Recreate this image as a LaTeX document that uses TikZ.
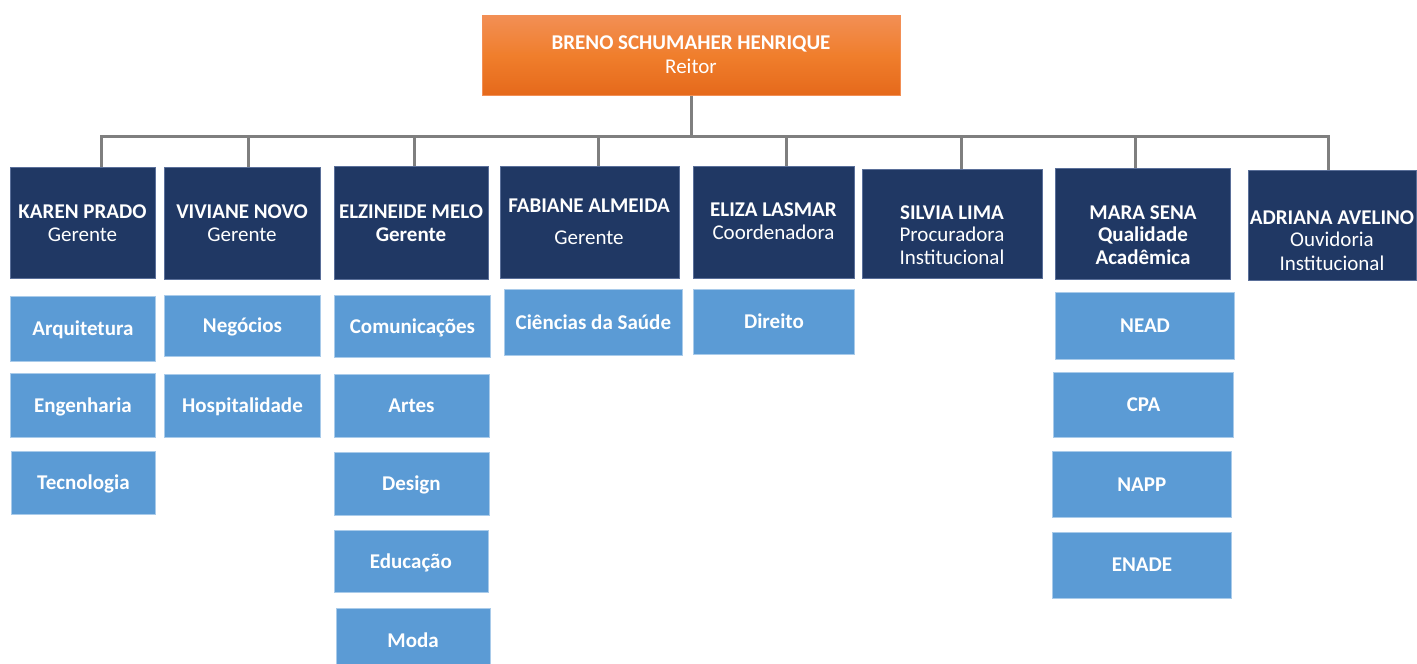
\documentclass[tikz,border=0pt]{standalone}
\usepackage{fontspec}
\setmainfont{Carlito}
\definecolor{navy}{HTML}{203864}
\definecolor{navyedge}{HTML}{5A6F99}
\definecolor{lblue}{HTML}{5B9BD5}
\definecolor{lbedge}{HTML}{A9CBEA}
\definecolor{orgT}{HTML}{F28F55}
\definecolor{orgM}{HTML}{F07E2C}
\definecolor{orgB}{HTML}{E5691B}
\definecolor{connc}{HTML}{7F7F7F}
\begin{document}
\begin{tikzpicture}[x=1pt,y=-1pt,
  darkbox/.style={fill=navy,draw=navyedge,line width=0.8pt,anchor=north west,inner sep=0pt},
  lightbox/.style={fill=lblue,draw=lbedge,line width=0.8pt,anchor=north west,inner sep=0pt,
     text=white,font=\fontsize{21}{25}\selectfont\bfseries,text height=13.5pt,text depth=0pt},
  tline/.style={text=white,anchor=base,inner sep=0pt,font=\fontsize{21}{23}\selectfont},
  bline/.style={tline,font=\fontsize{21}{23}\selectfont\bfseries},
  conn/.style={draw=connc,line width=3pt}]
\useasboundingbox (0,0) rectangle (1417,664);

% top box
\node[anchor=north west,inner sep=0pt,minimum width=418pt,minimum height=80pt,
  top color=orgT,bottom color=orgB,middle color=orgM,draw=orgT,line width=0.8pt] (reitor) at (482,15) {};
\node[bline] (reitor1) at (691,49) {BRENO SCHUMAHER HENRIQUE};
\node[tline] (reitor2) at (691,73) {Reitor};

% managers
\node[darkbox,minimum width=145pt,minimum height=111pt] (karen) at (10,167) {};
\node[darkbox,minimum width=156pt,minimum height=112pt] (viviane) at (164,167) {};
\node[darkbox,minimum width=154pt,minimum height=113pt] (elzineide) at (334,166) {};
\node[darkbox,minimum width=179pt,minimum height=112pt] (fabiane) at (499.5,166) {};
\node[darkbox,minimum width=160.5pt,minimum height=112pt] (eliza) at (693.3,166) {};
\node[darkbox,minimum width=180pt,minimum height=109pt] (silvia) at (862.3,169) {};
\node[darkbox,minimum width=175pt,minimum height=111pt] (mara) at (1055.3,168) {};
\node[darkbox,minimum width=168pt,minimum height=110pt] (adriana) at (1248,170) {};

\node[bline] (karen1) at (82.5,218) {KAREN PRADO};
\node[tline] (karen2) at (82.5,241) {Gerente};
\node[bline] (viviane1) at (242,218) {VIVIANE NOVO};
\node[tline] (viviane2) at (242,241) {Gerente};
\node[bline] (elzineide1) at (411,218) {ELZINEIDE MELO};
\node[bline] (elzineide2) at (411,241) {Gerente};
\node[bline] (fabiane1) at (589,212.3) {FABIANE ALMEIDA};
\node[tline] (fabiane2) at (589,244.7) {Gerente};
\node[bline] (eliza1) at (773.5,216.3) {ELIZA LASMAR};
\node[tline] (eliza2) at (773.5,239.3) {Coordenadora};
\node[bline] (silvia1) at (952,219) {SILVIA LIMA};
\node[tline] (silvia2) at (952,241.5) {Procuradora};
\node[tline] (silvia3) at (952,264) {Institucional};
\node[bline] (mara1) at (1143,219) {MARA SENA};
\node[bline] (mara2) at (1143,241.5) {Qualidade};
\node[bline] (mara3) at (1143,264) {Acadêmica};
\node[bline] (adriana1) at (1332,224) {ADRIANA AVELINO};
\node[tline] (adriana2) at (1332,246.5) {Ouvidoria};
\node[tline] (adriana3) at (1332,270) {Institucional};

% departments
\node[lightbox,minimum width=145pt,minimum height=65pt] (arq) at (10,295.5) {Arquitetura};
\node[lightbox,minimum width=145pt,minimum height=64pt] (eng) at (10,373) {Engenharia};
\node[lightbox,minimum width=144pt,minimum height=63pt] (tec) at (11,451.3) {Tecnologia};
\node[lightbox,minimum width=155.5pt,minimum height=61.5pt] (neg) at (164.3,294.7) {Negócios};
\node[lightbox,minimum width=155.5pt,minimum height=62.5pt] (hosp) at (164.3,374) {Hospitalidade};
\node[lightbox,minimum width=155.5pt,minimum height=62.5pt] (comu) at (334.3,294.7) {Comunicações};
\node[lightbox,minimum width=155pt,minimum height=62.5pt] (artes) at (333.5,374) {Artes};
\node[lightbox,minimum width=155pt,minimum height=63pt] (design) at (333.5,452.3) {Design};
\node[lightbox,minimum width=154pt,minimum height=62pt] (edu) at (333.5,530.3) {Educação};
\node[lightbox,minimum width=154pt,minimum height=66pt] (moda) at (335.7,607.7) {Moda};
\node[lightbox,minimum width=178.5pt,minimum height=65.7pt] (cien) at (503.7,289.3) {Ciências da Saúde};
\node[lightbox,minimum width=160.5pt,minimum height=64.7pt] (direito) at (693.3,289.3) {Direito};
\node[lightbox,minimum width=178.7pt,minimum height=66.4pt] (nead) at (1055.3,292.3) {NEAD};
\node[lightbox,minimum width=179.7pt,minimum height=65.3pt] (cpa) at (1053.3,371.7) {CPA};
\node[lightbox,minimum width=178.7pt,minimum height=66pt] (napp) at (1052,451.3) {NAPP};
\node[lightbox,minimum width=179pt,minimum height=66pt] (enade) at (1052,531.7) {ENADE};

% connectors
\coordinate (busL) at (101,136);
\coordinate (busR) at (1328,136);
\coordinate (dK) at (101,136);
\coordinate (dV) at (248,136);
\coordinate (dZ) at (414,136);
\coordinate (dF) at (598,136);
\coordinate (dE) at (786,136);
\coordinate (dS) at (961,136);
\coordinate (dM) at (1135,136);
\coordinate (dA) at (1328,136);
\draw[conn] (reitor.south) -- (reitor.south |- busL);
\draw[conn,line cap=rect] (busL) -- (busR);
\draw[conn] (dK) -- (dK |- karen.north);
\draw[conn] (dV) -- (dV |- viviane.north);
\draw[conn] (dZ) -- (dZ |- elzineide.north);
\draw[conn] (dF) -- (dF |- fabiane.north);
\draw[conn] (dE) -- (dE |- eliza.north);
\draw[conn] (dS) -- (dS |- silvia.north);
\draw[conn] (dM) -- (dM |- mara.north);
\draw[conn] (dA) -- (dA |- adriana.north);
\end{tikzpicture}
\end{document}
